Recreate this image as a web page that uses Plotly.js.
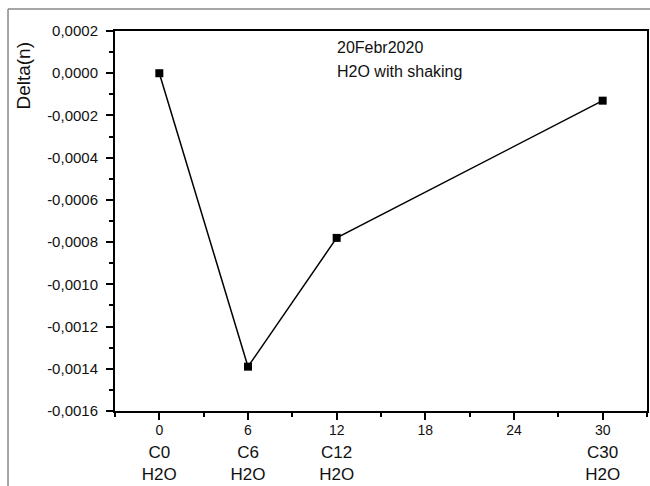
<!DOCTYPE html>
<html>
<head>
<meta charset="utf-8">
<script src="https://cdn.plot.ly/plotly-3.0.1.min.js"></script>
<style>html,body{margin:0;padding:0;background:#fff;}#chart{width:650px;height:486px;}</style>
</head>
<body>
<div id="chart"></div>
<script>
// Data
var xValues = [0, 6, 12, 30];
var deltaN = [0.0, -0.00139, -0.00078, -0.00013];

var xTickVals = [0, 6, 12, 18, 24, 30];
var xTickNums = ["0", "6", "12", "18", "24", "30"];
var xTickCats = ["C0<br>H2O", "C6<br>H2O", "C12<br>H2O", "", "", "C30<br>H2O"];

var yTickVals = [0.0002, 0.0, -0.0002, -0.0004, -0.0006, -0.0008, -0.0010, -0.0012, -0.0014, -0.0016];
var yTickText = ["0,0002", "0,0000", "-0,0002", "-0,0004", "-0,0006", "-0,0008", "-0,0010", "-0,0012", "-0,0014", "-0,0016"];

var noteLines = ["20Febr2020", "H2O with shaking"];
var yTitle = "Delta(n)";

var xTickText = xTickVals.map(function (v, i) {
  var t = "<span style='font-size:14px'>" + xTickNums[i] + "</span>";
  if (xTickCats[i]) t += "<br>" + xTickCats[i];
  return t;
});

var font = "Liberation Sans, Arial, sans-serif";
var txtColor = "#111";

var trace = {
  x: xValues,
  y: deltaN,
  type: "scatter",
  mode: "lines+markers",
  line: {color: "#000", width: 1.5},
  marker: {symbol: "square", size: 8, color: "#000"},
  showlegend: false,
  hoverinfo: "skip"
};

var layout = {
  width: 650,
  height: 486,
  margin: {l: 115, r: 3, t: 31, b: 75},
  paper_bgcolor: "#fff",
  plot_bgcolor: "#fff",
  font: {family: font, color: txtColor},
  xaxis: {
    range: [-3, 33],
    tickmode: "array",
    tickvals: xTickVals,
    ticktext: xTickText,
    tickfont: {size: 17, family: font, color: txtColor},
    ticklabelstandoff: -5,
    ticks: "outside",
    ticklen: 7,
    tickwidth: 2,
    tickcolor: "#000",
    minor: {ticks: "outside", dtick: 3, tick0: 0, ticklen: 4, tickwidth: 2, tickcolor: "#000"},
    showline: true,
    linewidth: 2,
    linecolor: "#000",
    mirror: true,
    showgrid: false,
    zeroline: false
  },
  yaxis: {
    range: [-0.0016, 0.0002],
    tickmode: "array",
    tickvals: yTickVals,
    ticktext: yTickText,
    tickfont: {size: 15, family: font, color: txtColor},
    ticklabelstandoff: 5,
    ticks: "outside",
    ticklen: 7,
    tickwidth: 2,
    tickcolor: "#000",
    minor: {ticks: "outside", dtick: 0.0001, tick0: 0, ticklen: 4, tickwidth: 2, tickcolor: "#000"},
    showline: true,
    linewidth: 2,
    linecolor: "#000",
    mirror: true,
    showgrid: false,
    zeroline: false
  },
  annotations: [
    {text: noteLines[0], xref: "paper", yref: "paper", x: 0.4135, y: 0.985, xanchor: "left", yanchor: "top",
     showarrow: false, font: {size: 16, family: font, color: txtColor}},
    {text: noteLines[1], xref: "paper", yref: "paper", x: 0.4135, y: 0.922, xanchor: "left", yanchor: "top",
     showarrow: false, font: {size: 16, family: font, color: txtColor}},
    {text: yTitle, xref: "paper", yref: "paper", x: -0.172, y: 0.884, xanchor: "center", yanchor: "middle",
     textangle: -90, showarrow: false, font: {size: 19, family: font, color: txtColor}}
  ],
  shapes: [
    {type: "line", xref: "paper", yref: "paper", x0: -0.2011, x1: -0.2011, y0: 1.0579, y1: -0.3,
     line: {color: "#888", width: 1.5}},
    {type: "line", xref: "paper", yref: "paper", x0: -0.2011, x1: 1.05, y0: 1.0579, y1: 1.0579,
     line: {color: "#888", width: 1.5}}
  ]
};

Plotly.newPlot("chart", [trace], layout, {displayModeBar: false, staticPlot: true});
</script>
</body>
</html>
